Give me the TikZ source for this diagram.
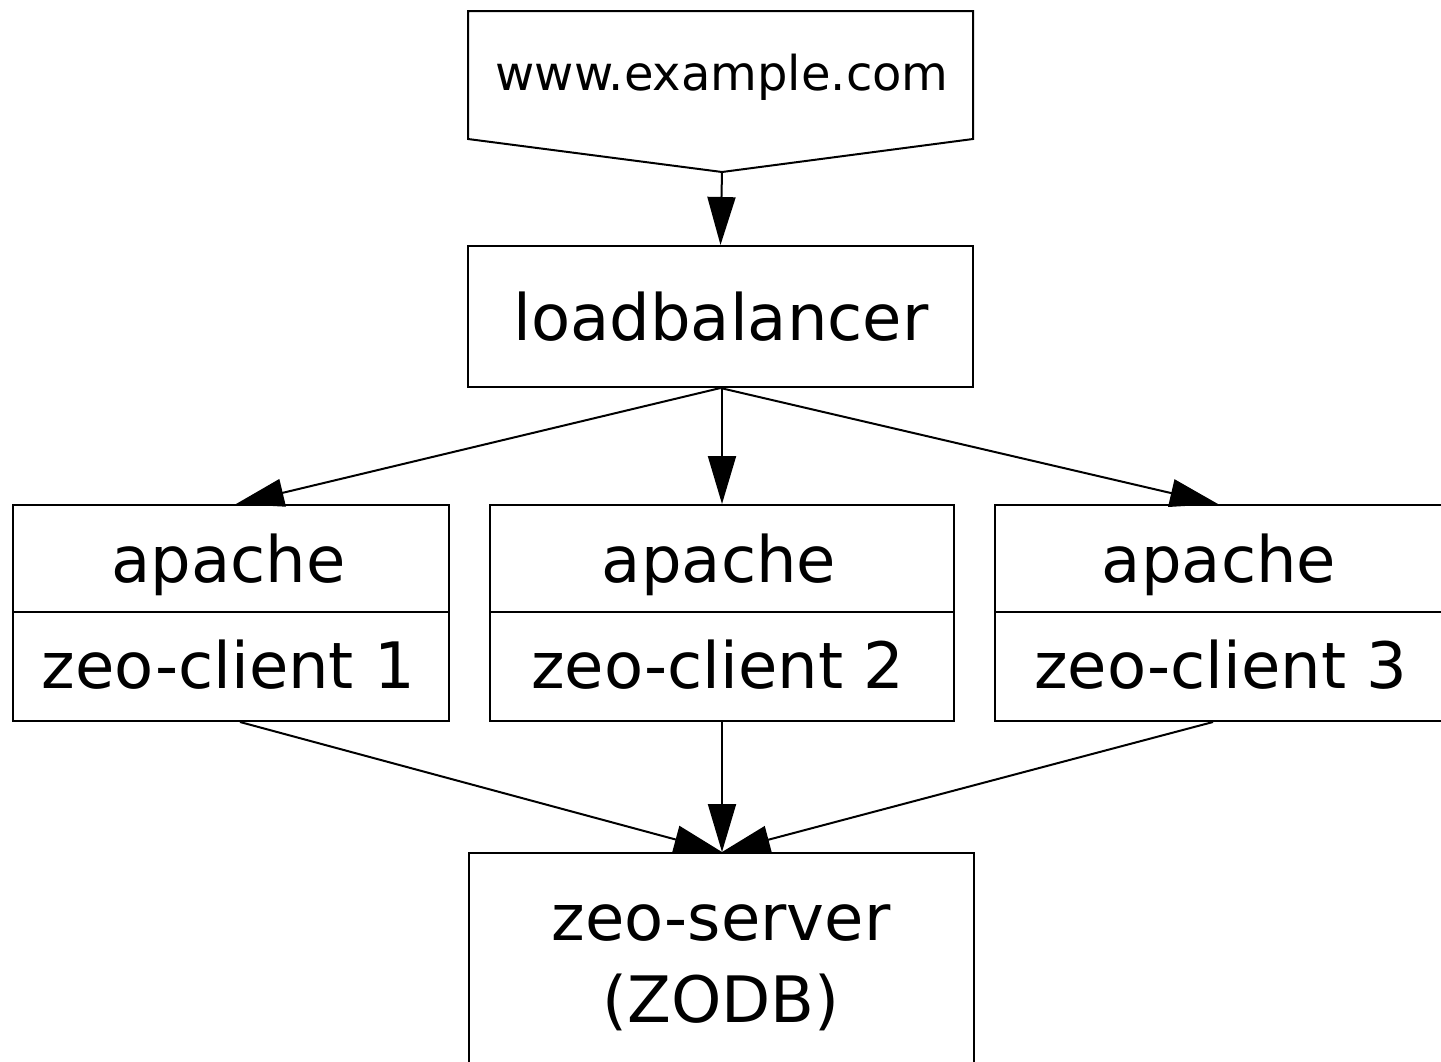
\documentclass[tikz,border=0pt]{standalone}
\usepackage{fontspec}
\setmainfont{DejaVu Sans}
\usetikzlibrary{arrows.meta}
\begin{document}
\begin{tikzpicture}[x=1pt,y=-1pt,
  box/.style={draw,line width=2pt,inner sep=0pt,rectangle},
  lbl/.style={anchor=base,inner sep=0pt,font=\fontsize{64}{76}\selectfont},
  small/.style={anchor=base,inner sep=0pt,font=\fontsize{48}{58}\selectfont},
  conn/.style={line width=2pt,-{Triangle[length=48pt,width=28pt]}}]
\clip (0,0) rectangle (1441,1061);
\fill[white] (0,0) rectangle (1441,1061);
% www.example.com (pentagon pointing down)
\draw[line width=2pt,line join=miter] (468,11) -- (973,11) -- (973,139) -- (722,172) -- (468,139) -- cycle;
\coordinate (wwwtip) at (722,172);
\node[small] (www) at (722,90) {www.example.com};
% loadbalancer
\node[box,minimum width=505pt,minimum height=141pt] (lb) at (720.5,316.5) {};
\node[lbl] (lbt) at (721,340) {loadbalancer};
% apache / zeo-client boxes
\node[box,minimum width=436pt,minimum height=107pt] (ap1) at (231,558.5) {};
\node[box,minimum width=436pt,minimum height=109pt] (zc1) at (231,666.5) {};
\node[box,minimum width=464pt,minimum height=107pt] (ap2) at (722,558.5) {};
\node[box,minimum width=464pt,minimum height=109pt] (zc2) at (722,666.5) {};
\node[box,minimum width=450pt,minimum height=107pt] (ap3) at (1220,558.5) {};
\node[box,minimum width=450pt,minimum height=109pt] (zc3) at (1220,666.5) {};
\node[lbl] (ap1t) at (228.5,582) {apache};
\node[lbl] (zc1t) at (228.5,688) {zeo-client 1};
\node[lbl] (ap2t) at (719,582) {apache};
\node[lbl] (zc2t) at (718,688) {zeo-client 2};
\node[lbl] (ap3t) at (1219,582) {apache};
\node[lbl] (zc3t) at (1221,688) {zeo-client 3};
% zeo-server
\node[box,minimum width=505pt,minimum height=300pt,anchor=north] (zs) at (721,852) {};
\node[lbl] (zst) at (721,940) {zeo-server};
\node[lbl] (zodb) at (721,1022) {(ZODB)};
% connectors
\draw[conn] (wwwtip) -- (lb.north);
\draw[conn] (lb.south) -- ([xshift=5pt]ap1.north);
\draw[conn] (lb.south -| ap2.north) -- (ap2.north);
\draw[conn] (lb.south) -- ([xshift=-2pt]ap3.north);
\draw[conn] ([xshift=9pt]zc1.south) -- ([xshift=1pt]zs.north);
\draw[conn] (zc2.south) -- (zc2.south |- zs.north);
\draw[conn] ([xshift=-7pt]zc3.south) -- ([xshift=1pt]zs.north);
\end{tikzpicture}
\end{document}
